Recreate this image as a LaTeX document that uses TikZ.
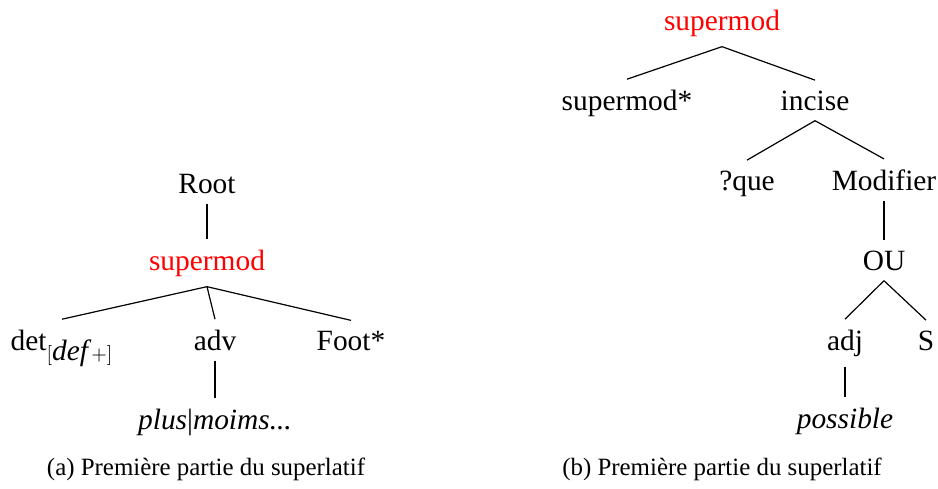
\documentclass[tikz,border=0pt]{standalone}
\usepackage{fontspec}
\setmainfont{Liberation Serif}
\begin{document}
\begin{tikzpicture}[x=0.5pt,y=-0.5pt,
  tn/.style={anchor=base,inner sep=5pt,font=\fontsize{14.7}{17}\selectfont},
  red tn/.style={tn,text=red},
  captext/.style={anchor=base,inner sep=0pt,font=\fontsize{12.45}{15}\selectfont},
  edge/.style={line width=0.6pt}]
\useasboundingbox (0,0) rectangle (938,488);
% (a)
\node[tn] (root) at (207,193) {Root};
\node[red tn] (sma) at (207,270) {supermod};
\node[tn] (det) at (62,350) {det$_{[\textit{def}\,+]}$};
\node[tn] (adv) at (215,350) {adv};
\node[tn] (foot) at (351,350) {Foot*};
\node[tn] (plus) at (215,429) {\textit{plus}|\textit{moims...}};
\node[captext] (capa) at (206,475) {(a) Première partie du superlatif};
\draw[edge] (root.south) -- (sma.north);
\draw[edge] (sma.south) -- (det.north);
\draw[edge] (sma.south) -- (adv.north);
\draw[edge] (sma.south) -- (foot.north);
\draw[edge] (adv.south) -- (plus.north);
% (b)
\node[red tn] (smb) at (722,30) {supermod};
\node[tn] (smstar) at (627,110) {supermod*};
\node[tn] (inc) at (815,110) {incise};
\node[tn] (que) at (747,190) {?que};
\node[tn] (mod) at (884,190) {Modifier};
\node[tn] (ou) at (884,270) {OU};
\node[tn] (adj) at (845,350) {adj};
\node[tn] (s) at (926,350) {S};
\node[tn] (poss) at (845,428) {\textit{possible}};
\node[captext] (capb) at (722,475) {(b) Première partie du superlatif};
\draw[edge] (smb.south) -- (smstar.north);
\draw[edge] (smb.south) -- (inc.north);
\draw[edge] (inc.south) -- (que.north);
\draw[edge] (inc.south) -- (mod.north);
\draw[edge] (mod.south) -- (ou.north);
\draw[edge] (ou.south) -- (adj.north);
\draw[edge] (ou.south) -- (s.north);
\draw[edge] (adj.south) -- (poss.north);
\end{tikzpicture}
\end{document}
